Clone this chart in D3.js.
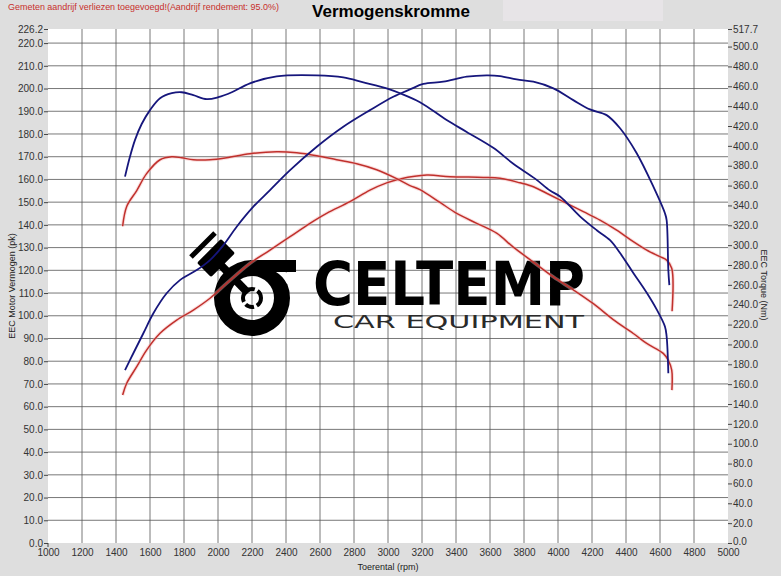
<!DOCTYPE html>
<html>
<head>
    <title>Vermogenskromme</title>
    <style>
        body { margin: 0; }
        svg { display: block; font-family: "Liberation Sans", Arial, sans-serif; }
        .tick line { stroke: #444; }
        .tick text { fill: #333; font-size: 10px; }
    </style>
    <script src="https://d3js.org/d3.v7.min.js"></script>
</head>
<body>
<script>
    // blauwe curve: vermogen (pk)
    let bluePowerRpm = [1453, 1502, 1561, 1620, 1698, 1776, 1875, 1953, 2031, 2110, 2208, 2306, 2424, 2581, 2737, 2894, 3031, 3129, 3208, 3325, 3463, 3580, 3659, 3757, 3855, 3973, 4090, 4188, 4286, 4365, 4463, 4561, 4629, 4639, 4649, 4655];
    let bluePowerPk = [76.1, 83.5, 92.3, 101.1, 109.9, 115.7, 120.1, 124.5, 131.0, 139.2, 148.0, 155.3, 164.1, 174.4, 183.2, 190.5, 196.4, 199.6, 202.0, 203.0, 205.2, 205.8, 205.5, 204.0, 203.0, 200.1, 194.9, 190.8, 188.3, 182.5, 171.5, 156.8, 145.1, 142.1, 120.1, 113.5];

    // blauwe curve: koppel (Nm)
    let blueTorqueRpm = [1453, 1482, 1512, 1551, 1600, 1659, 1728, 1786, 1855, 1934, 2002, 2081, 2188, 2345, 2581, 2737, 2855, 2992, 3071, 3188, 3345, 3463, 3619, 3737, 3865, 3953, 4012, 4129, 4228, 4306, 4365, 4443, 4522, 4581, 4629, 4639, 4649];
    let blueTorqueNm = [369, 389, 406, 422, 436, 448, 453, 454, 451, 447, 449, 454, 463, 470, 471, 469, 464, 458, 453, 444, 426, 414, 398, 382, 367, 355, 349, 329, 315, 305, 292, 272, 252, 235, 218, 208, 171];

    // rode curve: vermogen (pk)
    let redPowerRpm = [1439, 1463, 1522, 1580, 1659, 1757, 1855, 1953, 2051, 2188, 2306, 2424, 2541, 2639, 2776, 2894, 2992, 3071, 3228, 3365, 3561, 3659, 3776, 3855, 3933, 4031, 4149, 4247, 4345, 4443, 4522, 4600, 4639, 4669, 4671];
    let redPowerPk = [65.1, 70.3, 77.6, 84.9, 92.3, 98.1, 102.5, 107.7, 114.3, 123.1, 128.9, 134.8, 140.7, 145.1, 150.2, 155.3, 158.5, 160.2, 161.9, 161.2, 160.9, 160.5, 158.5, 156.8, 153.9, 150.2, 145.8, 142.1, 137.7, 132.6, 128.9, 126.0, 124.5, 120.9, 102.0];

    // rode curve: koppel (Nm)
    let redTorqueRpm = [1439, 1463, 1522, 1580, 1659, 1728, 1786, 1855, 1953, 2051, 2188, 2345, 2463, 2581, 2698, 2816, 2933, 3051, 3129, 3188, 3306, 3404, 3522, 3639, 3737, 3855, 3973, 4090, 4208, 4325, 4443, 4522, 4619, 4649, 4669, 4670];
    let redTorqueNm = [319, 339, 355, 372, 386, 389, 388, 386, 386, 388, 392, 394, 393, 390, 386, 382, 376, 367, 360, 356, 343, 332, 322, 312, 298, 283, 268, 255, 241, 225, 211, 201, 191, 184, 174, 154];

    let xTicks = d3.range(1000, 5001, 200);
    let leftTicks = d3.range(0, 221, 10).concat([226.2]);
    let rightTicks = d3.range(0, 501, 20).concat([517.7]);

    let width = 781;
    let height = 576;
    let plotLeft = 48, plotRight = 728, plotTop = 29, plotBottom = 543;

    let svg = d3.select("body")
        .append("svg")
        .attr("width", width)
        .attr("height", height);

    svg.append("rect").attr("width", width).attr("height", height).attr("fill", "#dedede");
    svg.append("rect").attr("x", 503).attr("y", 0).attr("width", 160).attr("height", 21).attr("fill", "#e7e4e7");

    let x = d3.scaleLinear().domain([1000, 5000]).range([plotLeft, plotRight]);
    let yL = d3.scaleLinear().domain([0, 226.2]).range([plotBottom, plotTop]);
    let yR = d3.scaleLinear().domain([0, 517.7]).range([plotBottom, plotTop]);

    svg.append("rect")
        .attr("x", plotLeft).attr("y", plotTop)
        .attr("width", plotRight - plotLeft).attr("height", plotBottom - plotTop)
        .attr("fill", "#fff");

    // raster
    svg.append("g").selectAll("line")
        .data(xTicks.filter(d => d > 1000 && d < 5000))
        .enter().append("line")
        .attr("x1", d => x(d)).attr("x2", d => x(d))
        .attr("y1", plotTop).attr("y2", plotBottom)
        .attr("stroke", "#555").attr("stroke-width", 0.8);

    svg.append("g").selectAll("line")
        .data(leftTicks.filter(d => d > 0 && d < 226))
        .enter().append("line")
        .attr("x1", plotLeft).attr("x2", plotRight)
        .attr("y1", d => yL(d)).attr("y2", d => yL(d))
        .attr("stroke", "#555").attr("stroke-width", 0.8);

    // assen
    let axL = svg.append("g")
        .attr("transform", `translate(${plotLeft},0)`)
        .call(d3.axisLeft(yL).tickValues(leftTicks).tickSize(4).tickPadding(1).tickFormat(d3.format(".1f")));
    axL.select(".domain").remove();

    let axR = svg.append("g")
        .attr("transform", `translate(${plotRight},0)`)
        .call(d3.axisRight(yR).tickValues(rightTicks).tickSize(4).tickPadding(1).tickFormat(d3.format(".1f")));
    axR.select(".domain").remove();
    axR.selectAll(".tick text").filter(d => d === 0).attr("dy", "0.1em");

    let axB = svg.append("g")
        .attr("transform", `translate(0,${plotBottom})`)
        .call(d3.axisBottom(x).tickValues(xTicks).tickSize(0).tickPadding(6).tickFormat(d3.format("d")));
    axB.select(".domain").remove();
    svg.append("line").attr("x1", plotLeft).attr("x2", plotLeft).attr("y1", plotBottom).attr("y2", plotBottom + 4).attr("stroke", "#444");

    // logo (watermerk)
    let logo = svg.append("g");
    logo.append("path")
        .attr("transform", "translate(252,298)")
        .attr("d", d3.arc()({ innerRadius: 22, outerRadius: 38, startAngle: 0, endAngle: 2 * Math.PI }))
        .attr("fill", "#000");
    logo.append("rect").attr("x", 250).attr("y", 260).attr("width", 46).attr("height", 12).attr("fill", "#000");
    logo.append("path")
        .attr("d", "M276,272 Q283,276 287,284 L292,284 Q290,274 285,272 Z")
        .attr("fill", "#fff");
    logo.append("circle").attr("cx", 252).attr("cy", 298).attr("r", 9)
        .attr("fill", "none").attr("stroke", "#000").attr("stroke-width", 4)
        .attr("stroke-dasharray", "9 3");
    logo.append("line").attr("x1", 214).attr("y1", 258).attr("x2", 248).attr("y2", 293)
        .attr("stroke", "#000").attr("stroke-width", 8);
    logo.append("rect").attr("x", -17).attr("y", -10).attr("width", 34).attr("height", 20).attr("rx", 2)
        .attr("transform", "translate(216,258) rotate(-45)").attr("fill", "#000");
    logo.append("rect").attr("x", -17).attr("y", -2.5).attr("width", 34).attr("height", 5)
        .attr("transform", "translate(203,245) rotate(-45)").attr("fill", "#000");
    logo.append("text")
        .attr("x", 313).attr("y", 305)
        .attr("font-family", "DejaVu Sans").attr("font-weight", "bold").attr("font-size", 60)
        .attr("textLength", 272).attr("lengthAdjust", "spacingAndGlyphs")
        .attr("fill", "#000")
        .text("CELTEMP");
    logo.append("text")
        .attr("x", 333).attr("y", 328)
        .attr("font-family", "DejaVu Sans").attr("font-size", 17)
        .attr("textLength", 251).attr("lengthAdjust", "spacingAndGlyphs")
        .attr("fill", "#2a2a2a")
        .text("CAR EQUIPMENT");

    // curves
    function series(rpm, vals, yScale) {
        return rpm.map((r, i) => ({ r: r, v: vals[i], y: yScale }));
    }
    let line = d3.line()
        .x(d => x(d.r))
        .y(d => d.y(d.v))
        .curve(d3.curveCatmullRom.alpha(0.5));

    let redSeries = [series(redPowerRpm, redPowerPk, yL), series(redTorqueRpm, redTorqueNm, yR)];
    let blueSeries = [series(bluePowerRpm, bluePowerPk, yL), series(blueTorqueRpm, blueTorqueNm, yR)];

    redSeries.forEach(s => {
        svg.append("path").datum(s).attr("d", line)
            .attr("fill", "none").attr("stroke", "#f4b4b4").attr("stroke-width", 3.5).attr("opacity", 0.45);
        svg.append("path").datum(s).attr("d", line)
            .attr("fill", "none").attr("stroke", "#c0302c").attr("stroke-width", 1.5);
    });
    blueSeries.forEach(s => {
        svg.append("path").datum(s).attr("d", line)
            .attr("fill", "none").attr("stroke", "#16167c").attr("stroke-width", 1.8);
    });

    // teksten
    svg.append("text")
        .attr("x", 8).attr("y", 10)
        .attr("font-size", 9).attr("fill", "#c8302c")
        .attr("textLength", 271).attr("lengthAdjust", "spacingAndGlyphs")
        .text("Gemeten aandrijf verliezen toegevoegd!(Aandrijf rendement: 95.0%)");

    svg.append("text")
        .attr("x", 391).attr("y", 17)
        .attr("text-anchor", "middle")
        .attr("font-size", 17).attr("font-weight", "bold").attr("fill", "#000")
        .text("Vermogenskromme");

    svg.append("text")
        .attr("x", 388).attr("y", 570)
        .attr("text-anchor", "middle")
        .attr("font-size", 9).attr("fill", "#222")
        .text("Toerental (rpm)");

    svg.append("text")
        .attr("transform", "translate(15,286) rotate(-90)")
        .attr("text-anchor", "middle")
        .attr("font-size", 9).attr("fill", "#222")
        .text("EEC Motor Vermogen (pk)");

    svg.append("text")
        .attr("transform", "translate(761,285) rotate(90)")
        .attr("text-anchor", "middle")
        .attr("font-size", 9).attr("fill", "#222")
        .text("EEC Torque (Nm)");
</script>
</body>
</html>
